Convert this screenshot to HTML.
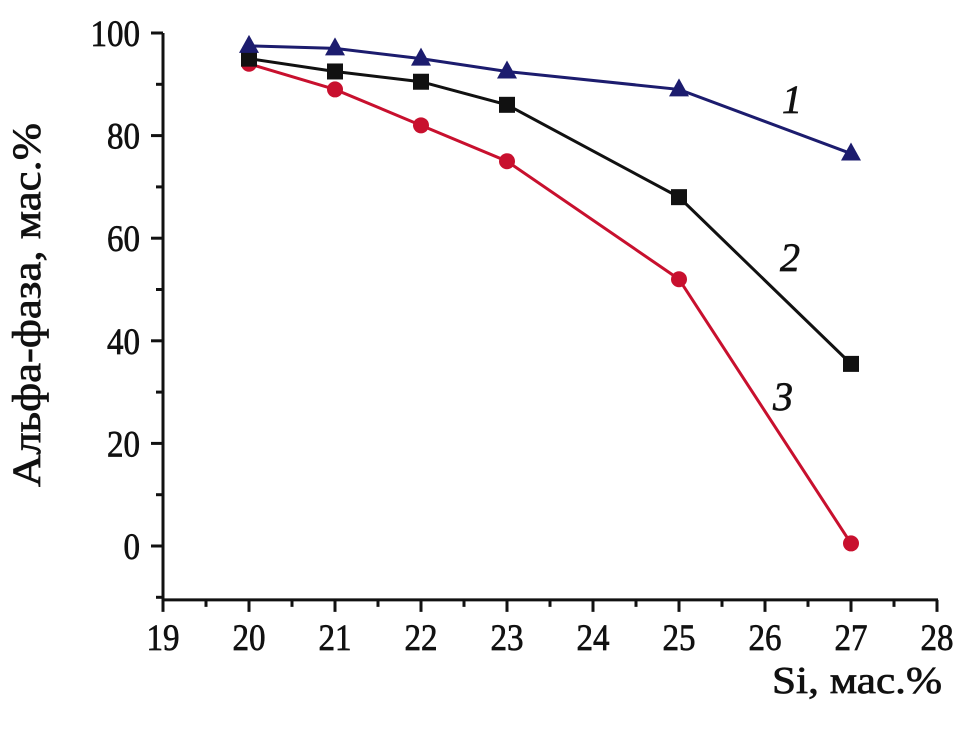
<!DOCTYPE html>
<html><head><meta charset="utf-8"><style>
body{margin:0;background:#fff}
svg text{font-family:"Liberation Serif","DejaVu Serif",serif;fill:#111;stroke:#111;stroke-width:0.7}
</style></head><body>
<svg width="971" height="728">
<g id="axes"></g><g id="series"></g>
<text x="40" y="305" font-size="40" text-anchor="middle" textLength="364" lengthAdjust="spacingAndGlyphs" transform="rotate(-90 40 305)">Альфа-фаза, мас.%</text>
<text x="942" y="693" font-size="38" text-anchor="end" textLength="170" lengthAdjust="spacingAndGlyphs">Si, мас.%</text>
<text x="782" y="113" font-size="40" font-style="italic">1</text>
<text x="780" y="271" font-size="40" font-style="italic">2</text>
<text x="773" y="410" font-size="40" font-style="italic">3</text>
</svg>
<script>
const xCats=[20,21,22,23,25,27];
const s1=[97.5,97,95,92.5,89,76.5];
const s2=[95,92.5,90.5,86,68,35.5];
const s3=[94,89,82,75,52,0.5];
const xTicks=[19,20,21,22,23,24,25,26,27,28];
const yTicks=[0,20,40,60,80,100];
const NS="http://www.w3.org/2000/svg";
const X=v=>163+(v-19)*86;
const Y=v=>546-v*5.13;
const axes=document.getElementById('axes'),ser=document.getElementById('series');
function mk(tag,attrs,parent){const e=document.createElementNS(NS,tag);for(const k in attrs)e.setAttribute(k,attrs[k]);parent.appendChild(e);return e;}
let l=mk('line',{x1:163,y1:33,x2:163,y2:Y(-10.5),stroke:'#111','stroke-width':3},axes);


l=mk('line',{x1:161.5,y1:Y(-10.5),x2:938,y2:Y(-10.5),stroke:'#111','stroke-width':3},axes);


const by=Y(-10.5);
xTicks.forEach((t,i)=>{
 const e=mk('line',{x1:X(t),y1:by,x2:X(t),y2:by+12,stroke:'#111','stroke-width':3},axes);
 
 
 if(i<xTicks.length-1){const m=mk('line',{x1:X(t+0.5),y1:by,x2:X(t+0.5),y2:by+7,stroke:'#111','stroke-width':3},axes);
 
 }
 const s=String(t);
 const tx=mk('text',{x:X(t),y:by+50,'font-size':37,'text-anchor':'middle',textLength:16.5*s.length,lengthAdjust:'spacingAndGlyphs'},axes);tx.textContent=s;
 
 
});
yTicks.forEach(t=>{
 const e=mk('line',{x1:151,y1:Y(t),x2:163,y2:Y(t),stroke:'#111','stroke-width':3},axes);
 
 
 const m=mk('line',{x1:156,y1:Y(t-10),x2:163,y2:Y(t-10),stroke:'#111','stroke-width':3},axes);
 
 
 const s=String(t);
 const tx=mk('text',{x:140,y:Y(t)+13,'font-size':37,'text-anchor':'end',textLength:16.5*s.length,lengthAdjust:'spacingAndGlyphs'},axes);tx.textContent=s;
 
 
});
function series(vals,color,shape,name){
 const p=mk('polyline',{points:vals.map((v,i)=>X(xCats[i])+','+Y(v)).join(' '),fill:'none',stroke:color,'stroke-width':3},ser);
 
 
 vals.forEach((v,i)=>{
  const x=X(xCats[i]),y=Y(v);let m;
  if(shape==='tri')m=mk('polygon',{points:`${x},${y-11} ${x-10},${y+7} ${x+10},${y+7}`,fill:color},ser);
  else if(shape==='sq')m=mk('rect',{x:x-8,y:y-8,width:16,height:16,fill:color},ser);
  else m=mk('circle',{cx:x,cy:y,r:8,fill:color},ser);
  
  
 });
}
series(s3,'#c8102e','circ','series-3');
series(s2,'#111','sq','series-2');
series(s1,'#1c1c6e','tri','series-1');
</script>
</body></html>
